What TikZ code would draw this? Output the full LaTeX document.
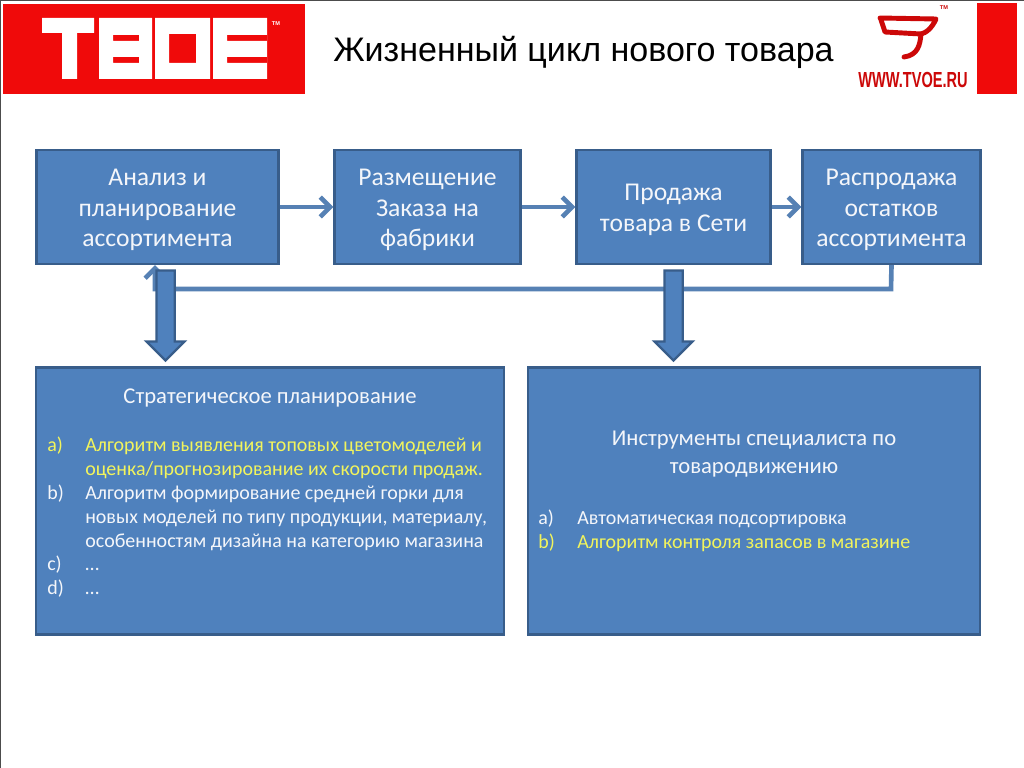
\documentclass[tikz,border=0pt]{standalone}
\usepackage{fontspec}
\setmainfont{Carlito}
\newfontfamily\titlefont{Liberation Sans}
\newfontfamily\logofont[FakeStretch=0.67]{Liberation Sans}
\usetikzlibrary{shapes.arrows,arrows.meta}
\definecolor{boxfill}{HTML}{4F81BD}
\definecolor{boxline}{HTML}{385D8A}
\definecolor{logored}{HTML}{F00A0A}
\definecolor{marktext}{HTML}{F2F45C}
\definecolor{bodytext}{HTML}{F4F6FA}
\tikzset{
  stagebox/.style={draw=boxline,line width=1.6pt,fill=boxfill,inner sep=0pt,minimum height=114*0.025cm},
  stagetext/.style={text=bodytext,align=center,inner sep=0pt,yshift=-2.1pt,font=\fontsize{18.2}{21.7}\selectfont},
  panelbox/.style={draw=boxline,line width=1.6pt,fill=boxfill,inner sep=0pt,minimum height=267*0.025cm},
  paneltext/.style={text=bodytext,align=center,font=\fontsize{16.1}{20}\selectfont},
  listline/.style={text=bodytext,anchor=base west,inner sep=0pt,font=\fontsize{14.2}{17}\selectfont},
  markline/.style={listline,text=marktext},
  flowarrow/.style={-{Straight Barb[length=7pt,width=14pt]},line width=3.3pt,color=boxfill!85!gray},
  blockarrow/.style={single arrow,draw=boxline,line width=1.6pt,fill=boxfill,shape border rotate=270,
    single arrow head extend=0.25cm,single arrow tip angle=90,inner sep=0.2cm,minimum height=2.25cm}
}
\begin{document}
\begin{tikzpicture}[x=0.025cm,y=-0.025cm]
  \useasboundingbox (0,0) rectangle (1024,768);
  \fill[white] (0,0) rectangle (1024,768);
  \draw[black!70,line width=1pt] (0,768) -- (0,0) -- (1024,0);

  % logos
  \fill[logored] (3,4) rectangle (305,94);
  \fill[logored] (977,3) rectangle (1017,94);
  \fill[white] (42,18) -| (94,33) -| (77,79) -| (62,33) -| cycle;
  \fill[white,even odd rule] (99,18) rectangle (152,79) (113,35) rectangle (139,41) (113,57) rectangle (139,63);
  \fill[white,even odd rule] (155,18) rectangle (210,79) (169,34) rectangle (196,63);
  \fill[white,even odd rule] (213,18) rectangle (267,79) (227,35) rectangle (267,41) (227,57) rectangle (267,63);
  \node[text=white,font=\titlefont\fontsize{4}{4}\selectfont\bfseries] (tmleft) at (276,24) {TM};
  \draw[logored!85!black,line width=3.5pt,line join=round,line cap=round]
    (880,18) -- (936,19) .. controls (932,28) and (926,33) .. (921,34) -- (885,32) -- (881,20);
  \draw[logored!85!black,line width=3.5pt,line cap=round]
    (921,34) .. controls (920,45) and (918,55) .. (904,57);
  \node[text=logored!85!black,font=\titlefont\fontsize{4}{4}\selectfont\bfseries] (tmright) at (944,8) {TM};
  \node[text=logored!85!black,font=\logofont\fontsize{15.5}{15.5}\selectfont\bfseries] (siteurl) at (913,80) {WWW.TVOE.RU};

  \node[font=\titlefont\fontsize{24.2}{28}\selectfont,anchor=west,inner sep=0pt] (heading) at (333,52) {Жизненный цикл нового товара};

  % top row
  \node[stagebox,minimum width=242*0.025cm] (analysis) at (157.5,207) {};
  \node[stagebox,minimum width=186*0.025cm] (order) at (427.5,207) {};
  \node[stagebox,minimum width=194*0.025cm] (sale) at (673.5,207) {};
  \node[stagebox,minimum width=178*0.025cm] (clearance) at (891.5,207) {};
  \node[stagetext] (analysistext) at (analysis.center) {Анализ и\\планирование\\ассортимента};
  \node[stagetext] (ordertext) at (order.center) {Размещение\\Заказа на\\фабрики};
  \node[stagetext] (saletext) at (sale.center) {Продажа\\товара в Сети};
  \node[stagetext] (clearancetext) at (clearance.center) {Распродажа\\остатков\\ассортимента};

  \draw[flowarrow] (analysis) -- (order);
  \draw[flowarrow] (order) -- (sale);
  \draw[flowarrow] (sale) -- (clearance);
  \coordinate (backcorner) at (891,289);
  \coordinate (backturn) at (155,289);
  \draw[flowarrow] (clearance.south) -- (backcorner) -- (backturn) -- (analysis.south -| backturn);

  % panels
  \node[panelbox,minimum width=468*0.025cm] (planning) at (270,501) {};
  \node[panelbox,minimum width=452*0.025cm] (tools) at (754,501) {};

  \node[blockarrow] (downleft) at (165.5,311) {};
  \node[blockarrow] (downright) at (673.5,311) {};

  \node[paneltext] (planninghead) at (270,398) {Стратегическое планирование};
  \node[markline] (pa) at (47,451.5) {a)};
  \node[markline] (pat) at (85,451.5) {Алгоритм выявления топовых цветомоделей и};
  \node[markline] (pau) at (85,475.5) {оценка/прогнозирование их скорости продаж.};
  \node[listline] (pb) at (47,499.5) {b)};
  \node[listline] (pbt) at (85,499.5) {Алгоритм формирование средней горки для};
  \node[listline] (pbu) at (85,523.5) {новых моделей по типу продукции, материалу,};
  \node[listline] (pbv) at (85,547.5) {особенностям дизайна на категорию магазина};
  \node[listline] (pc) at (47,570.5) {c)};
  \node[listline] (pct) at (85,570.5) {…};
  \node[listline] (pd) at (47,594.5) {d)};
  \node[listline] (pdt) at (85,594.5) {…};

  \node[paneltext] (toolshead) at (754,454) {Инструменты специалиста по\\товародвижению};
  \node[listline] (ta) at (538,524.5) {a)};
  \node[listline] (tat) at (577,524.5) {Автоматическая подсортировка};
  \node[markline] (tb) at (538,548.5) {b)};
  \node[markline] (tbt) at (577,548.5) {Алгоритм контроля запасов в магазине};
\end{tikzpicture}
\end{document}
